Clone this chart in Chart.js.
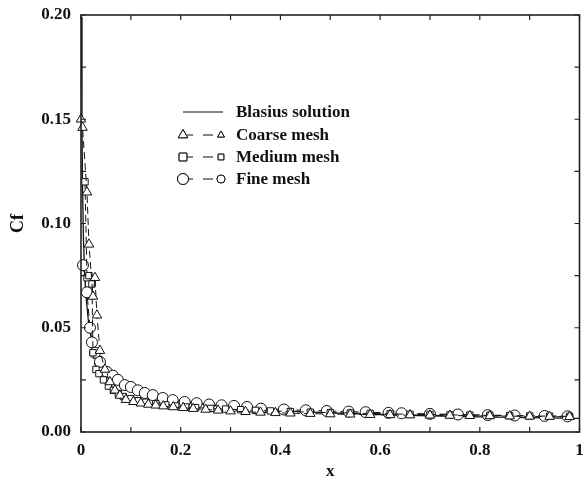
<!DOCTYPE html>
<html>
<head>
<meta charset="utf-8">
<script src="https://cdn.jsdelivr.net/npm/chart.js@4.4.0/dist/chart.umd.min.js"></script>
<style>
  html, body { margin: 0; padding: 0; background: #fff; }
  #wrap { width: 586px; height: 480px; }
</style>
</head>
<body>
<div id="wrap"><canvas id="cfChart" width="586" height="480"></canvas></div>
<script>
// Skin friction coefficient along the plate

const blasius_x = [0.0011, 0.002, 0.003, 0.005, 0.0075, 0.01, 0.015, 0.02, 0.03, 0.04, 0.05, 0.07, 0.1, 0.15, 0.2, 0.3, 0.4, 0.5, 0.6, 0.7, 0.8, 0.9, 1.0]
const blasius_cf = [0.199, 0.146, 0.119, 0.092, 0.075, 0.065, 0.053, 0.046, 0.0376, 0.0326, 0.0291, 0.0246, 0.0206, 0.0168, 0.0146, 0.0119, 0.0103, 0.0092, 0.0084, 0.0078, 0.0073, 0.0069, 0.0065]

const coarse_x = [0.0, 0.003, 0.012, 0.016, 0.024, 0.028, 0.032, 0.038, 0.048, 0.058, 0.068, 0.078, 0.09, 0.105, 0.12, 0.135, 0.15, 0.165, 0.185, 0.205, 0.225, 0.25, 0.275, 0.3, 0.33, 0.36, 0.39, 0.42, 0.46, 0.5, 0.54, 0.58, 0.62, 0.66, 0.7, 0.74, 0.78, 0.82, 0.86, 0.9, 0.94, 0.98]
const coarse_cf = [0.150, 0.146, 0.115, 0.090, 0.065, 0.074, 0.056, 0.039, 0.030, 0.024, 0.020, 0.0175, 0.0155, 0.0145, 0.0138, 0.0132, 0.0128, 0.0124, 0.012, 0.0116, 0.0112, 0.0108, 0.0104, 0.010, 0.0097, 0.0094, 0.0092, 0.009, 0.0088, 0.0086, 0.0085, 0.0083, 0.0082, 0.0081, 0.008, 0.0079, 0.0078, 0.0077, 0.0076, 0.0075, 0.0074, 0.0073]

const medium_x = [0.008, 0.012, 0.016, 0.022, 0.024, 0.03, 0.036, 0.045, 0.055, 0.065, 0.075, 0.085, 0.1, 0.115, 0.13, 0.15, 0.17, 0.19, 0.21, 0.23, 0.26, 0.29, 0.32, 0.35, 0.38, 0.42, 0.46, 0.5, 0.54, 0.58, 0.62, 0.66, 0.7, 0.74, 0.78, 0.82, 0.86, 0.9, 0.94, 0.98]
const medium_cf = [0.120, 0.074, 0.075, 0.071, 0.038, 0.030, 0.028, 0.025, 0.022, 0.020, 0.0185, 0.017, 0.016, 0.015, 0.0143, 0.0136, 0.013, 0.0125, 0.012, 0.0117, 0.0113, 0.011, 0.0107, 0.0104, 0.0101, 0.0098, 0.0095, 0.0093, 0.0091, 0.0089, 0.0087, 0.0085, 0.0084, 0.0082, 0.0081, 0.008, 0.0078, 0.0077, 0.0076, 0.0075]

const fine_x = [0.004, 0.012, 0.018, 0.022, 0.028, 0.038, 0.052, 0.064, 0.074, 0.088, 0.10, 0.114, 0.128, 0.144, 0.164, 0.184, 0.208, 0.232, 0.257, 0.282, 0.307, 0.333, 0.361, 0.407, 0.451, 0.493, 0.537, 0.571, 0.617, 0.643, 0.70, 0.756, 0.816, 0.87, 0.93, 0.976]
const fine_cf = [0.080, 0.067, 0.050, 0.043, 0.038, 0.0336, 0.0288, 0.027, 0.025, 0.0225, 0.0216, 0.020, 0.0187, 0.0177, 0.0163, 0.0153, 0.0144, 0.0138, 0.0132, 0.0128, 0.0125, 0.012, 0.0112, 0.0108, 0.0104, 0.0101, 0.0098, 0.0095, 0.0092, 0.009, 0.0087, 0.0084, 0.0081, 0.0079, 0.0077, 0.0075]

const x_tick_values = [0, 0.2, 0.4, 0.6, 0.8, 1]
const x_tick_labels = ['0', '0.2', '0.4', '0.6', '0.8', '1']
const y_tick_values = [0, 0.05, 0.1, 0.15, 0.2]
const y_tick_labels = ['0.00', '0.05', '0.10', '0.15', '0.20']

const legend_labels = ['Blasius solution', 'Coarse mesh', 'Medium mesh', 'Fine mesh']

const FONT = "'Liberation Serif', 'DejaVu Serif', serif"
const INK = '#111'

function to_points(xs, ys){
  return xs.map((x, i) => ({ x: x, y: ys[i] }))
}

function find_label(values, labels, v){
  const i = values.findIndex(t => Math.abs(t - v) < 1e-9)
  return i >= 0 ? labels[i] : ''
}

function mesh_dataset(label, xs, ys, style){
  return {
    label: label,
    data: to_points(xs, ys),
    showLine: true,
    borderColor: INK,
    borderWidth: 1,
    borderDash: [7, 4],
    pointStyle: style,
    pointRadius: style === 'rect' ? 4.5 : 5.5,
    pointBorderWidth: 1,
    pointBackgroundColor: '#fff',
    pointBorderColor: INK,
    clip: { left: 8, top: 0, right: 8, bottom: 8 }
  }
}

// box, inward ticks on all four sides, legend in the plot
const frame_plugin = {
  id: 'frame',
  afterDraw(chart){
    const ctx = chart.ctx
    const a = chart.chartArea
    const xs = chart.scales.x
    const ys = chart.scales.y
    const len = 5
    ctx.save()
    ctx.strokeStyle = '#222'
    ctx.lineWidth = 1.6
    ctx.strokeRect(a.left, a.top, a.right - a.left, a.bottom - a.top)
    ctx.lineWidth = 1.2
    ctx.beginPath()
    xs.ticks.forEach(t => {
      const px = xs.getPixelForValue(t.value)
      ctx.moveTo(px, a.bottom); ctx.lineTo(px, a.bottom - len)
      ctx.moveTo(px, a.top); ctx.lineTo(px, a.top + len)
    })
    ys.ticks.forEach(t => {
      const py = ys.getPixelForValue(t.value)
      ctx.moveTo(a.left, py); ctx.lineTo(a.left + len, py)
      ctx.moveTo(a.right, py); ctx.lineTo(a.right - len, py)
    })
    ctx.stroke()

    // legend
    const lx = 183, rx = 221, tx = 236
    const rows = [112, 135, 157, 179]
    const styles = [null, 'triangle', 'rect', 'circle']
    ctx.font = "bold 17px " + FONT
    ctx.fillStyle = INK
    ctx.textBaseline = 'middle'
    rows.forEach((ry, i) => {
      ctx.strokeStyle = INK
      ctx.lineWidth = 1
      ctx.setLineDash([])
      if (styles[i] === null){
        ctx.beginPath(); ctx.moveTo(lx, ry); ctx.lineTo(rx + 2, ry); ctx.stroke()
      } else {
        ctx.beginPath(); ctx.moveTo(lx + 4, ry); ctx.lineTo(lx + 10, ry); ctx.stroke()
        ctx.beginPath(); ctx.moveTo(lx + 20, ry); ctx.lineTo(lx + 30, ry); ctx.stroke()
        ctx.fillStyle = '#fff'
        Chart.helpers.drawPoint(ctx, { pointStyle: styles[i], radius: 5.5, borderWidth: 1 }, lx, ry)
        ctx.fill(); ctx.stroke()
        Chart.helpers.drawPoint(ctx, { pointStyle: styles[i], radius: 4, borderWidth: 1 }, rx, ry)
        ctx.fill(); ctx.stroke()
        ctx.fillStyle = INK
      }
      ctx.fillText(legend_labels[i], tx, ry + 1)
    })
    ctx.restore()
  }
}

const ctx = document.getElementById('cfChart').getContext('2d')

const chart = new Chart(ctx, {
  type: 'scatter',
  data: {
    datasets: [
      mesh_dataset(legend_labels[1], coarse_x, coarse_cf, 'triangle'),
      mesh_dataset(legend_labels[2], medium_x, medium_cf, 'rect'),
      mesh_dataset(legend_labels[3], fine_x, fine_cf, 'circle'),
      {
        label: legend_labels[0],
        data: to_points(blasius_x, blasius_cf),
        showLine: true,
        borderColor: INK,
        borderWidth: 1.3,
        pointRadius: 0,
        tension: 0
      }
    ]
  },
  options: {
    responsive: false,
    animation: false,
    layout: { padding: { left: 0, right: 4, top: 15, bottom: 0 } },
    plugins: {
      legend: { display: false },
      tooltip: { enabled: false },
      title: { display: false }
    },
    scales: {
      x: {
        type: 'linear',
        min: 0,
        max: 1,
        afterFit: s => { s.height = 48; s.paddingLeft = 0; s.paddingRight = 0 },
        grid: { display: false, drawTicks: false, tickLength: 0 },
        border: { display: false },
        ticks: {
          stepSize: 0.1,
          autoSkip: false,
          maxRotation: 0,
          padding: 8,
          color: INK,
          font: { family: FONT, size: 17, weight: 'bold' },
          callback: v => find_label(x_tick_values, x_tick_labels, v)
        },
        title: {
          display: true,
          text: 'x',
          color: INK,
          padding: { top: 0, bottom: -2 },
          font: { family: FONT, size: 17, weight: 'bold' }
        }
      },
      y: {
        type: 'linear',
        min: 0,
        max: 0.2,
        afterFit: s => { s.width = 81; s.paddingTop = 0; s.paddingBottom = 0 },
        grid: { display: false, drawTicks: false, tickLength: 0 },
        border: { display: false },
        ticks: {
          stepSize: 0.025,
          autoSkip: false,
          padding: 10,
          color: INK,
          font: { family: FONT, size: 17, weight: 'bold' },
          callback: v => find_label(y_tick_values, y_tick_labels, v)
        },
        title: {
          display: true,
          text: 'Cf',
          color: INK,
          padding: { top: 8, bottom: 0 },
          font: { family: FONT, size: 18, weight: 'bold' }
        }
      }
    }
  },
  plugins: [frame_plugin]
})
</script>
</body>
</html>
